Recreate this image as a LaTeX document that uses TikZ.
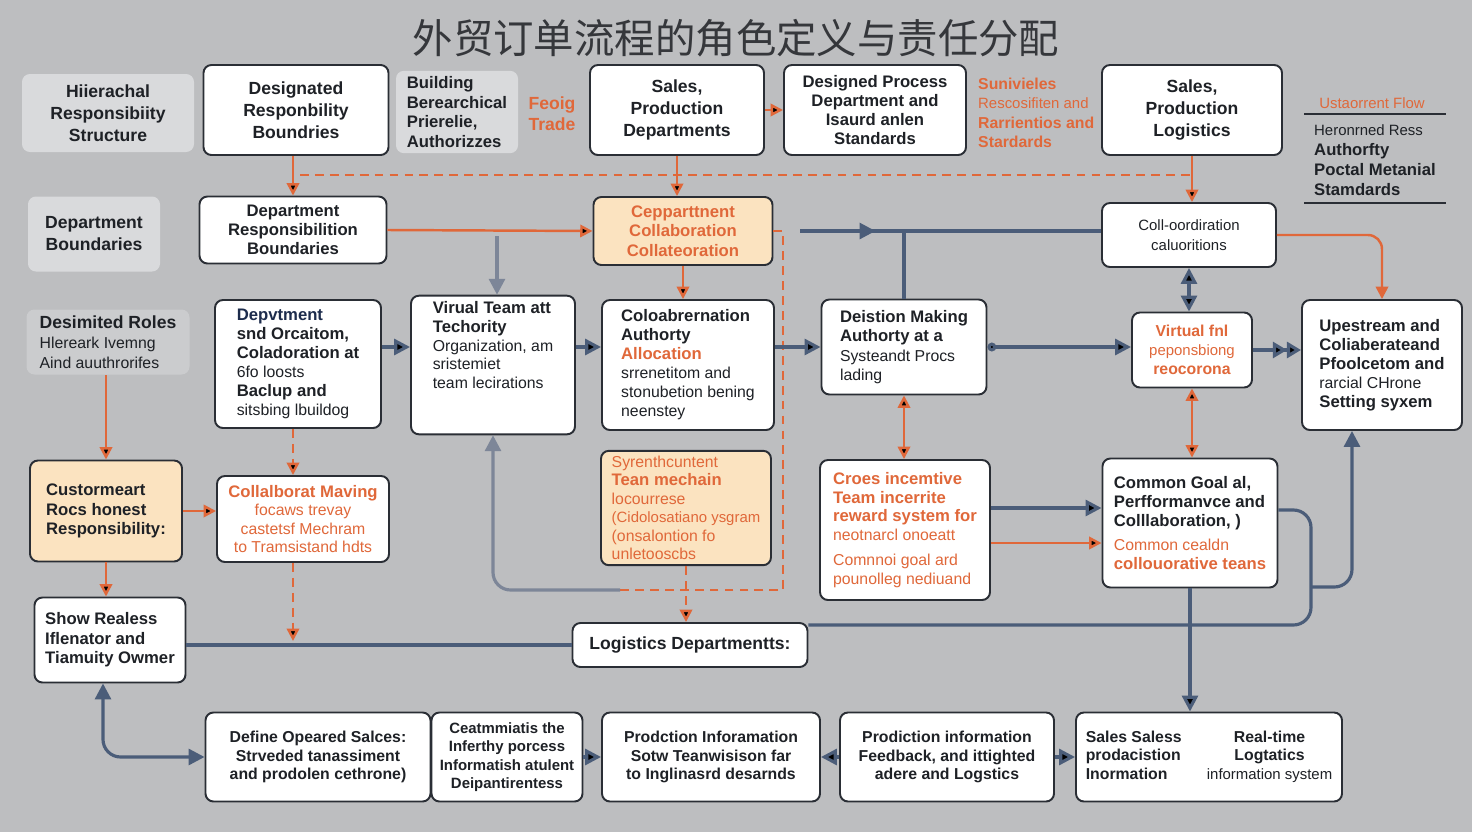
\documentclass[tikz,border=0pt]{standalone}
\usepackage{fontspec}
\setmainfont{Liberation Sans}
\newfontfamily\cjk{Noto Sans CJK SC}
\usetikzlibrary{arrows.meta,calc}

\definecolor{bg}{HTML}{BDBEC0}
\definecolor{ink}{HTML}{1E2126}
\definecolor{edge}{HTML}{2A2E35}
\definecolor{orng}{HTML}{E0683A}
\definecolor{slate}{HTML}{4B5D79}
\definecolor{mist}{HTML}{7D8698}
\definecolor{palefill}{HTML}{D9DADC}
\definecolor{palefillb}{HTML}{CBCCCE}
\definecolor{peachfill}{HTML}{FBE3C0}
\definecolor{navy}{HTML}{1D2C4C}
\definecolor{titlec}{HTML}{35373B}

\newcommand{\lite}{\mdseries\fontsize{9}{11}\selectfont}

\begin{document}
\begin{tikzpicture}[x=0.02cm, y=-0.02cm, >={Triangle[length=7pt,width=7pt]},
    sz/.style 2 args={minimum width=#1*0.02cm, minimum height=#2*0.02cm},
    box/.style={draw=edge, line width=1.1pt, fill=white, rounded corners=4.5pt,
      align=center, text=ink, inner sep=3pt, font=\bfseries\fontsize{10}{12.5}\selectfont},
    pale/.style={box, draw=none, fill=palefill},
    peach/.style={box, fill=peachfill},
    oline/.style={draw=orng, line width=1.4pt},
    sline/.style={draw=slate, line width=1.8pt, >={Triangle[length=9pt,width=9pt]}},
    gline/.style={sline, draw=mist},
    dsh/.style={dash pattern=on 5pt off 3.5pt}]

    \fill[bg] (0,0) rectangle (1472,832);
    \useasboundingbox (0,0) rectangle (1472,832);

    \node[font=\cjk\fontsize{23}{23}\selectfont, text=titlec] (title) at (736,38) {外贸订单流程的角色定义与责任分配};

    % top row
    \node[pale, sz={172}{78}] (hier) at (108,113) {Hiierachal\\Responsibiity\\Structure};
    \node[box, sz={185}{90}] (desig) at (296,110) {Designated\\Responbility\\Boundries};
    \node[pale, sz={122}{80}, align=left, font=\bfseries\fontsize{9.5}{11.3}\selectfont] (build) at (457,112) {Building\\Berearchical\\Prierelie,\\Authorizzes};
    \node[text=orng, align=center, font=\bfseries\fontsize{10}{12}\selectfont] (feoig) at (552,114) {Feoig\\Trade};
    \node[box, sz={174}{90}] (sales) at (677,110) {Sales,\\Production\\Departments};
    \node[box, sz={182}{90}, font=\bfseries\fontsize{9.5}{10.8}\selectfont] (dproc) at (875,110) {Designed Process\\Department and\\Isaurd anlen\\Standards};
    \node[anchor=west, text=orng, align=left, font=\bfseries\fontsize{9}{11}\selectfont] (suniv) at (972,113) {Sunivieles\\{\mdseries\fontsize{8.5}{11}\selectfont Rescosifiten and}\\Rarrientios and\\Stardards};
    \node[box, sz={180}{90}] (logi) at (1192,110) {Sales,\\Production\\Logistics};

    \node[text=orng, font=\fontsize{8.5}{10}\selectfont] (flow) at (1372,103) {Ustaorrent Flow};
    \node[anchor=north west, align=left, text=ink, font=\bfseries\fontsize{9.5}{11.5}\selectfont] (legd) at (1308,118) {{\mdseries\fontsize{8.5}{11}\selectfont Heronrned Ress}\\Authorfty\\Poctal Metanial\\Stamdards};
    \draw[edge, line width=0.9pt] (1304,114) -- (1446,114);
    \draw[edge, line width=0.9pt] (1304,203) -- (1446,203);

    % second row
    \node[pale, sz={132}{75}] (bnd) at (94,234) {Department\\Boundaries};
    \node[box, sz={187}{67}, font=\bfseries\fontsize{9.5}{11}\selectfont] (drb) at (293,230) {Department\\Responsibilition\\Boundaries};
    \node[peach, sz={179}{68}, text=orng, font=\bfseries\fontsize{9.5}{11}\selectfont] (collab) at (683,231) {Cepparttnent\\Collaboration\\Collateoration};
    \node[box, sz={174}{64}, font=\fontsize{8.5}{11}\selectfont] (coord) at (1189,235) {Coll-oordiration\\caluoritions};

    % third row
    \node[pale, fill=palefillb, sz={163}{65}, align=left, font=\bfseries\fontsize{10}{11.5}\selectfont] (roles) at (108,342) {Desimited Roles\\{\lite Hlereark Ivemng}\\{\lite Aind auuthrorifes}};
    \node[box, sz={166}{128}, align=left, font=\bfseries\fontsize{9.5}{10.8}\selectfont] (deprt) at (298,364) {{\color{navy}Depvtment}\\snd Orcaitom,\\Coladoration at\\{\lite 6fo loosts}\\Baclup and\\{\lite sitsbing lbuildog}};
    \node[box, sz={164}{130}, align=left, font=\bfseries\fontsize{9.5}{10.8}\selectfont] (virt) at (493,365) {Virual Team att\\Techority\\{\lite Organization, am}\\{\lite sristemiet}\\{\lite team lecirations}\\[12pt]};
    \node[box, sz={172}{130}, align=left, font=\bfseries\fontsize{9.5}{10.8}\selectfont] (coloab) at (688,365) {Coloabrernation\\Authorty\\{\color{orng}Allocation}\\{\lite srrenetitom and}\\{\lite stonubetion bening}\\{\lite neenstey}};
    \node[box, sz={165}{95}, align=left, font=\bfseries\fontsize{9.5}{11}\selectfont] (decis) at (904,347) {Deistion Making\\Authorty at a\\{\lite Systeandt Procs}\\{\lite lading}};
    \node[box, sz={120}{75}, text=orng, font=\bfseries\fontsize{9}{10.8}\selectfont] (vteam) at (1192,350) {Virtual fnl\\{\mdseries\fontsize{8.5}{11}\selectfont peponsbiong}\\reocorona};
    \node[box, sz={160}{130}, align=left, font=\bfseries\fontsize{9.5}{10.8}\selectfont] (upst) at (1382,365) {Upestream and\\Coliaberateand\\Pfoolcetom and\\{\lite rarcial CHrone}\\Setting syxem};

    % fourth row
    \node[peach, sz={152}{101}, align=left, font=\bfseries\fontsize{9.5}{11}\selectfont] (cust) at (106,511) {Custormeart\\Rocs honest\\Responsibility:};
    \node[box, sz={172}{86}, text=orng, font=\bfseries\fontsize{9.5}{10.5}\selectfont] (cmav) at (303,519) {Collalborat Maving\\{\lite focaws trevay}\\{\lite castetsf Mechram}\\{\lite to Tramsistand hdts}};
    \node[peach, sz={170}{114}, text=orng, align=left, font=\bfseries\fontsize{9.5}{10.5}\selectfont] (syn) at (686,508) {{\lite Syrenthcuntent}\\Tean mechain\\{\lite locourrese}\\{\mdseries\fontsize{8.5}{10}\selectfont (Cidolosatiano ysgram}\\{\lite (onsalontion fo}\\{\lite unletooscbs}};
    \node[box, sz={170}{140}, text=orng, align=left, font=\bfseries\fontsize{9.5}{10.5}\selectfont] (cross) at (905,530) {Croes incemtive\\Team incerrite\\reward system for\\{\lite neotnarcl onoeatt}\\[4pt]{\lite Comnnoi goal ard}\\{\lite pounolleg nediuand}};
    \node[box, sz={175}{129}, align=left, font=\bfseries\fontsize{9.5}{10.8}\selectfont] (goal) at (1190,523) {Common Goal al,\\Perfformanvce and\\Colllaboration, )\\[3pt]{\color{orng}\lite Common cealdn}\\{\color{orng}collouorative teans}};

    % fifth row
    \node[box, sz={151}{85}, align=left, font=\bfseries\fontsize{9.5}{11}\selectfont] (show) at (110,640) {Show Realess\\Iflenator and\\Tiamuity Owmer};
    \node[box, sz={235}{44}] (logd) at (690,645) {Logistics Departmentts:};

    % bottom row
    \node[box, sz={225}{89}, font=\bfseries\fontsize{9}{10.5}\selectfont] (def) at (318,757) {Define Opeared Salces:\\Strveded tanassiment\\and prodolen cethrone)};
    \node[box, sz={151}{89}, font=\bfseries\fontsize{8.5}{10.5}\selectfont] (ceat) at (507,757) {Ceatmmiatis the\\Inferthy porcess\\Informatish atulent\\Deipantirentess};
    \node[box, sz={218}{89}, font=\bfseries\fontsize{9}{10.5}\selectfont] (prod) at (711,757) {Prodction Inforamation\\Sotw Teanwisison far\\to Inglinasrd desarnds};
    \node[box, sz={214}{89}, font=\bfseries\fontsize{9}{10.5}\selectfont] (feed) at (947,757) {Prodiction information\\Feedback, and ittighted\\adere and Logstics};
    \node[box, sz={266}{89}, font=\bfseries\fontsize{9}{10.5}\selectfont] (real) at (1209,757) {\begin{tabular}{@{}l@{\hspace{1.6em}}c@{}}Sales Saless & Real-time\\ prodacistion & Logtatics\\ Inormation & {\mdseries\fontsize{8.5}{10}\selectfont information system}\end{tabular}};

    % orange connectors
    \coordinate (dl) at (300,175);
    \coordinate (dr) at (1192,175);
    \coordinate (lp) at (783,590);
    \coordinate (gj) at (620,590);
    \coordinate (co) at ($(cross.east)+(0,13)$);
    \coordinate (ce) at ($(cmav.south)+(-10,78)$);
    \draw[oline, dsh] (dl) -- (dr);
    \path[oline] (drb.north |- desig.south) edge[->] (drb.north)
          (sales.south)                     edge[->] (sales.south |- collab.north)
          (logi.south)                      edge[->] (logi.south |- coord.north)
          (sales.east)                      edge[->] (dproc.west)
          (drb.east)                        edge[->] (collab.west)
          (collab.south)                    edge[->] (collab.south |- coloab.north)
          (cust.north |- roles.south)       edge[->] (cust.north)
          (cust.south)                      edge[->] (cust.south |- show.north)
          (cust.east)                       edge[->] (cust.east -| cmav.west)
          ($(deprt.south)+(-5,0)$)          edge[->,dsh] ($(deprt.south |- cmav.north)+(-5,0)$)
          ($(cmav.south)+(-10,0)$)          edge[->,dsh] (ce)
          (syn.south)                       edge[->,dsh] (syn.south |- logd.north)
          (decis.south)                     edge[<->] (decis.south |- cross.north)
          (vteam.south)                     edge[<->] (vteam.south |- goal.north)
          (co)                              edge[->] (goal.west |- co);
    \draw[oline, dsh] (collab.east) -| (lp) -- (gj);
    \draw[oline, ->, rounded corners=8pt] (coord.east) -| (upst.north);

    % slate connectors
    \coordinate (gs) at ($(collab.east)+(27,0)$);
    \coordinate (gv) at ($(virt.north |- drb.east)+(4,6)$);
    \coordinate (cg) at ($(cross.east)+(0,-22)$);
    \coordinate (ge) at ($(goal.east)+(0,-13)$);
    \coordinate (gk) at (1311,625);
    \coordinate (gb) at (1311,587);
    \draw[sline] (gs) -- (coord.west |- gs);
    \draw[sline, ->] (gs) -- ++(75,0);
    \draw[sline] (decis.north |- gs) -- (decis.north);
    \draw[gline, ->] (gv) -- (gv |- virt.north);
    \draw[gline, <-, rounded corners=10pt] (virt.south) |- (gj);
    \path[sline] (deprt.east |- decis.west) edge[->] (virt.west |- decis.west)
          (virt.east |- decis.west)         edge[->] (coloab.west |- decis.west)
          (coloab.east |- decis.west)       edge[->] (decis.west)
          (decis.east)                      edge[{Circle[length=5pt]}->] (vteam.west |- decis.east)
          (vteam.east)                      edge[-{Triangle[length=8pt,width=9pt] Triangle[length=8pt,width=9pt]}] (upst.west |- vteam.east)
          (coord.south)                     edge[<->] (coord.south |- vteam.north)
          (cg)                              edge[->] (goal.west |- cg)
          (goal.south)                      edge[->] (goal.south |- real.north)
          (show.east |- logd.west)          edge (logd.west)
          (ceat.east)                       edge[->] (prod.west)
          (feed.west)                       edge[->] (prod.east)
          (feed.east)                       edge[->] (real.west);
    \draw[sline, rounded corners=10pt] (ge) -| (gk) -- (logd.east |- gk);
    \draw[sline, ->, rounded corners=10pt] (gb) -| ($(upst.south)+(-30,0)$);
    \draw[sline, <->, rounded corners=10pt] ($(show.south)+(-7,0)$) |- (def.west);
\end{tikzpicture}
\end{document}
